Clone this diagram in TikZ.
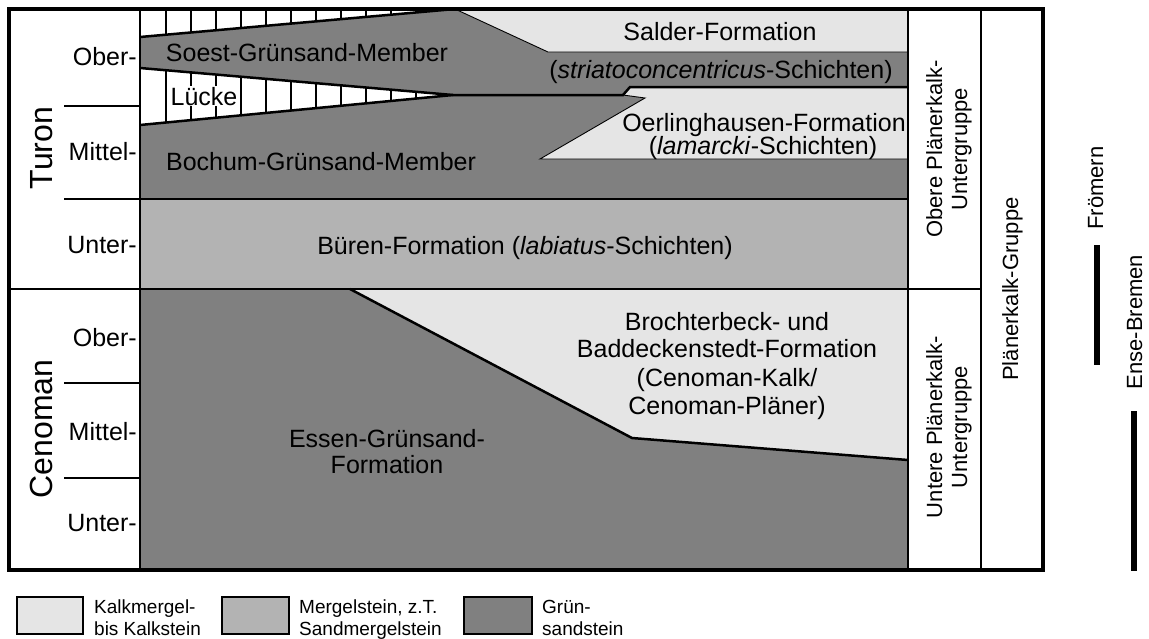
\documentclass[tikz,border=0pt]{standalone}
\usepackage{fontspec}
\setmainfont{Liberation Sans}
\definecolor{cLight}{RGB}{229,229,229}
\definecolor{cMid}{RGB}{179,179,179}
\definecolor{cDark}{RGB}{128,128,128}
\begin{document}
\begin{tikzpicture}[x=1pt,y=-1pt,
  frameline/.style={line width=3.5pt},
  mainline/.style={line width=2.5pt},
  thinline/.style={line width=0.9pt},
  hatchline/.style={line width=1.5pt},
  lbl/.style={font=\fontsize{25}{30}\selectfont, inner sep=0pt, anchor=base},
  sublbl/.style={lbl, anchor=base east},
  stagelbl/.style={font=\fontsize{32}{38}\selectfont, inner sep=0pt, anchor=base, rotate=90},
  collbl/.style={font=\fontsize{22}{26}\selectfont, inner sep=0pt, anchor=base, rotate=90},
  leglbl/.style={font=\fontsize{19}{22}\selectfont, inner sep=0pt, anchor=base west},
  legbox/.style={draw, line width=2.5pt},
  rangebar/.style={line width=6pt},
]
\fill[white] (0,0) rectangle (1149,638);
\useasboundingbox (0,0) rectangle (1149,638);

% ---- fills ----
% Soest-Gruensand (dark)
\fill[cDark] (140,37) -- (455,9) -- (548,52) -- (908,52) -- (908,87) -- (630,87) -- (623,95) -- (453,95) -- (140,68) -- cycle;
% Salder (light)
\fill[cLight] (455,9) -- (908,9) -- (908,52) -- (548,52) -- cycle;
% Bochum (dark)
\fill[cDark] (140,125) -- (453,95) -- (623,95) -- (645,98) -- (540,159) -- (908,159) -- (908,199) -- (140,199) -- cycle;
% Oerlinghausen (light)
\fill[cLight] (630,87) -- (908,87) -- (908,159) -- (540,159) -- (645,98) -- (623,95) -- cycle;
% Bueren (mid)
\fill[cMid] (140,199) rectangle (908,289);
% Essen (dark)
\fill[cDark] (140,289) rectangle (908,570);
% Brochterbeck (light)
\fill[cLight] (350,289) -- (908,289) -- (908,460) -- (632,438) -- cycle;

% ---- hatching (gaps) ----
\begin{scope}
  \clip (140,9) -- (455,9) -- (140,37) -- cycle;
  \foreach \hx in {166,191,...,441} \draw[hatchline] (\hx,5) -- (\hx,45);
\end{scope}
\begin{scope}
  \clip (140,68) -- (453,95) -- (140,125) -- cycle;
  \foreach \hx in {166,191,...,441} \draw[hatchline] (\hx,60) -- (\hx,130);
\end{scope}

% ---- boundaries ----
\draw[thinline] (455,9) -- (548,52) -- (908,52);
\draw[thinline] (623,95) -- (645,98) -- (540,159) -- (908,159);
\draw[mainline] (140,37) -- (455,9);
\draw[mainline] (140,68) -- (453,95) -- (623,95) -- (630,87) -- (908,87);
\draw[mainline] (140,125) -- (453,95);
\draw[mainline] (350,289) -- (632,438) -- (908,460);

\draw[mainline] (64,106) -- (140,106);
\draw[mainline] (64,199) -- (908,199);
\draw[mainline] (9,289) -- (981,289);
\draw[mainline] (64,383) -- (140,383);
\draw[mainline] (64,478) -- (140,478);
\draw[mainline] (140,9) -- (140,570);
\draw[mainline] (908,9) -- (908,570);
\draw[mainline] (981,9) -- (981,570);
\draw[frameline] (9,9) rectangle (1043,570);

% ---- stage labels ----
\node[stagelbl] (turon) at (52,148) {Turon};
\node[stagelbl] (cenoman) at (52,429) {Cenoman};
\node[sublbl] (tober) at (137,65) {Ober-};
\node[sublbl] (tmittel) at (137,160) {Mittel-};
\node[sublbl] (tunter) at (137,253) {Unter-};
\node[sublbl] (cober) at (137,346) {Ober-};
\node[sublbl] (cmittel) at (137,440) {Mittel-};
\node[sublbl] (cunter) at (137,531) {Unter-};

% ---- unit labels ----
\node[lbl] (soest) at (307,61) {Soest-Grünsand-Member};
\node[lbl, fill=white, inner sep=1pt] (luecke) at (204,105) {Lücke};
\node[lbl] (bochum) at (321,170) {Bochum-Grünsand-Member};
\node[lbl] (salder) at (720,40) {Salder-Formation};
\node[lbl] (striato) at (721,78) {(\textit{striatoconcentricus}-Schichten)};
\node[lbl] (oerl) at (764,131) {Oerlinghausen-Formation};
\node[lbl] (lamarcki) at (763,154) {(\textit{lamarcki}-Schichten)};
\node[lbl] (bueren) at (525,254) {Büren-Formation (\textit{labiatus}-Schichten)};
\node[lbl] (broch1) at (727,330) {Brochterbeck- und};
\node[lbl] (broch2) at (727,357) {Baddeckenstedt-Formation};
\node[lbl] (broch3) at (727,386) {(Cenoman-Kalk/};
\node[lbl] (broch4) at (727,414) {Cenoman-Pläner)};
\node[lbl] (essen1) at (387,447) {Essen-Grünsand-};
\node[lbl] (essen2) at (387,473) {Formation};

% ---- group columns ----
\node[collbl] (obere1) at (942,149) {Obere Plänerkalk-};
\node[collbl] (obere2) at (967,149) {Untergruppe};
\node[collbl] (untere1) at (942,427) {Untere Plänerkalk-};
\node[collbl] (untere2) at (967,427) {Untergruppe};
\node[collbl] (gruppe) at (1018,289) {Plänerkalk-Gruppe};

% ---- localities ----
\node[collbl] (froemern) at (1103,188) {Frömern};
\coordinate (fA) at (1097,245);
\coordinate (fB) at (1097,365);
\draw[rangebar] (fA) -- (fB);
\node[collbl] (ense) at (1142,322) {Ense-Bremen};
\coordinate (eA) at (1134,411);
\coordinate (eB) at (1134,571);
\draw[rangebar] (eA) -- (eB);

% ---- legend ----
\draw[legbox, fill=cLight] (17,597) rectangle (83,634);
\node[leglbl] (leg1a) at (94,613) {Kalkmergel-};
\node[leglbl] (leg1b) at (94,635) {bis Kalkstein};
\draw[legbox, fill=cMid] (222,597) rectangle (289,634);
\node[leglbl] (leg2a) at (299,613) {Mergelstein, z.T.};
\node[leglbl] (leg2b) at (299,635) {Sandmergelstein};
\draw[legbox, fill=cDark] (464,597) rectangle (532,634);
\node[leglbl] (leg3a) at (542,613) {Grün-};
\node[leglbl] (leg3b) at (542,635) {sandstein};
\end{tikzpicture}
\end{document}
